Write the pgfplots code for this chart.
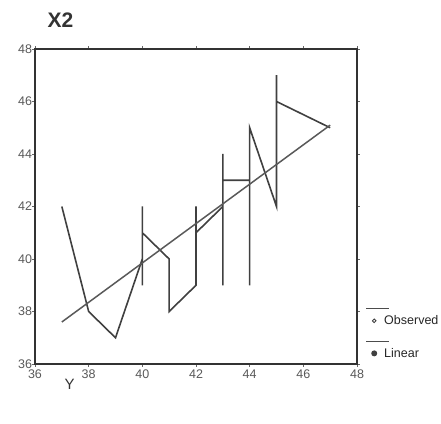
\documentclass[border=0pt]{standalone}
\usepackage{pgfplots}
\pgfplotsset{compat=1.18}
\usepackage{fontspec}
\setmainfont{Liberation Sans}
\begin{document}
\begin{tikzpicture}
\path[use as bounding box] (0pt,0pt) rectangle (441pt,423pt);
\begin{axis}[
  at={(35pt,59pt)}, anchor=south west,
  scale only axis, width=322pt, height=315pt,
  xmin=36, xmax=48, ymin=36, ymax=48,
  xtick={36,38,...,48}, ytick={36,38,...,48},
  axis line style={black!80, line width=1.3pt},
  tick align=outside, major tick length=2.5pt,
  tick style={black!60, line width=0.7pt},
  /pgf/number format/assume math mode=true,
  tick label style={font=\fontsize{12.5}{14}\selectfont, text=black!65},
  yticklabel style={xshift=3pt},
  xticklabel style={yshift=0pt},
  legend cell align=left,
  legend style={draw=none, fill=none, at={(axis description cs:1.028,0.01)}, anchor=south west,
    font=\fontsize{12.5}{12.5}\selectfont, text=black!85, row sep=18pt, inner sep=0pt,
    /tikz/column sep=3pt},
]
\addplot[black!75, line width=1.6pt,
  legend image code/.code={
    \draw[overlay, black!70, line width=1pt] (0pt,12pt) -- (23pt,12pt);
    \draw[black!75, line width=0.9pt] (8pt,0pt) circle (1.8pt);
    \path[draw=none, fill=none] (0pt,-3pt) rectangle (13pt,3pt);
  }] coordinates {
  (37,42) (38,38) (39,37) (40,40) (40,42) (40,39) (40,41) (41,40) (41,38)
  (42,39) (42,42) (42,41) (43,42) (43,44) (43,39) (43,43) (44,43) (44,39)
  (44,45) (45,42) (45,47) (45,46) (47,45)
};
\addlegendentry{Observed}
\addplot[black!65, line width=1.5pt,
  legend image code/.code={
    \draw[overlay, black!70, line width=1pt] (0pt,12pt) -- (23pt,12pt);
    \fill[black!75] (8pt,0pt) circle (2.2pt);
    \path[draw=none, fill=none] (0pt,-3pt) rectangle (13pt,3pt);
  }] coordinates {
  (37,37.6) (47,45.1)
};
\addlegendentry{Linear}
\end{axis}
\node[anchor=base west, font=\bfseries\fontsize{21}{21}\selectfont, text=black!80] at (44pt,395pt) {X2};
\node[anchor=base west, font=\fontsize{15}{15}\selectfont, text=black!80] at (61pt,34pt) {Y};
\end{tikzpicture}
\end{document}
